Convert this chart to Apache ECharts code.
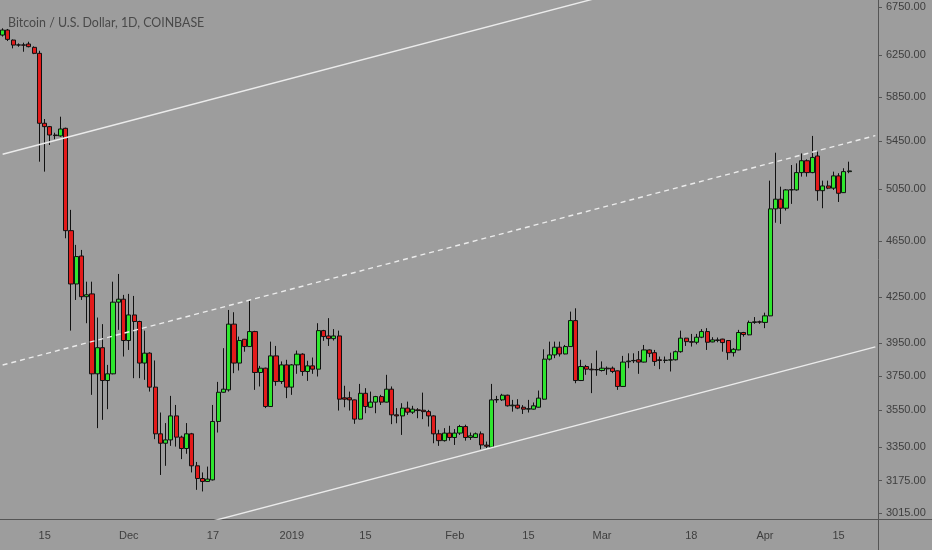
<!DOCTYPE html>
<html>
<head>
<meta charset="utf-8">
<title>Bitcoin / U.S. Dollar, 1D</title>
<script src="https://cdn.jsdelivr.net/npm/echarts@6/dist/echarts.min.js"></script>
<style>
  html, body { margin: 0; padding: 0; background: #9d9d9d; }
  #chart { width: 932px; height: 550px; }
</style>
</head>
<body>
<div id="chart"></div>
<script>
// daily candles, first one on Nov 7 2018; axis runs a few empty days past the last candle
var firstDay = '2018-11-07';
var dayCount = 167;

var open = [
  6455, 6507, 6404, 6353, 6355, 6364, 6330, 6270, 5609, 5579, 5505, 5497, 5564, 4727, 4342, 4540,
  4255, 4274, 3763, 3923, 3723, 3763, 4218, 4238, 3968, 4133, 4090, 3828, 3889, 3684, 3420, 3369,
  3387, 3519, 3402, 3341, 3420, 3250, 3185, 3170, 3178, 3488, 3654, 3668, 4073, 3828, 3976, 3930,
  4025, 3771, 3797, 3572, 3872, 3717, 3817, 3684, 3817, 3883, 3777, 3811, 3791, 4031, 3997, 3980,
  3997, 3622, 3622, 3610, 3501, 3648, 3568, 3597, 3629, 3597, 3672, 3525, 3519, 3563, 3540, 3553,
  3551, 3543, 3519, 3420, 3383, 3424, 3400, 3424, 3460, 3400, 3400, 3420, 3359, 3348, 3610, 3610,
  3637, 3576, 3580, 3568, 3557, 3557, 3568, 3614, 3852, 3878, 3926, 3884, 3930, 4096, 3723, 3807,
  3791, 3789, 3783, 3797, 3797, 3781, 3688, 3836, 3842, 3848, 3834, 3909, 3892, 3848, 3844, 3846,
  3848, 3898, 3983, 3961, 3957, 3989, 4025, 3959, 3972, 3977, 3968, 3892, 3909, 4019, 4004, 4084,
  4088, 4084, 4127, 4894, 4970, 4899, 5044, 5044, 5185, 5284, 5185, 5324, 5038, 5076, 5058, 5158,
  5022, 5193
];
var close = [
  6507, 6411, 6353, 6355, 6352, 6337, 6270, 5609, 5579, 5505, 5500, 5558, 4727, 4342, 4536, 4255,
  4268, 3763, 3923, 3723, 3763, 4218, 4238, 3968, 4133, 4090, 3828, 3889, 3684, 3420, 3369, 3387,
  3519, 3402, 3341, 3420, 3250, 3185, 3170, 3182, 3488, 3654, 3672, 4073, 3828, 3968, 3930, 4025,
  3771, 3797, 3572, 3872, 3717, 3817, 3684, 3817, 3883, 3777, 3811, 3791, 4031, 3993, 3980, 3997,
  3614, 3614, 3610, 3501, 3648, 3572, 3597, 3629, 3597, 3672, 3525, 3519, 3563, 3540, 3557, 3549,
  3543, 3519, 3420, 3383, 3424, 3400, 3424, 3460, 3400, 3409, 3420, 3360, 3353, 3610, 3612, 3637,
  3576, 3580, 3563, 3557, 3560, 3576, 3620, 3852, 3878, 3926, 3884, 3930, 4096, 3723, 3807, 3791,
  3787, 3787, 3797, 3793, 3777, 3688, 3834, 3840, 3844, 3834, 3909, 3888, 3838, 3844, 3846, 3848,
  3898, 3983, 3961, 3957, 3989, 4025, 3957, 3972, 3968, 3955, 3892, 3913, 4019, 4006, 4084, 4088,
  4086, 4127, 4894, 4970, 4899, 5044, 5046, 5185, 5284, 5185, 5312, 5038, 5076, 5058, 5158, 5017,
  5193, 5199
];
var low = [
  6440, 6394, 6320, 6336, 6286, 6330, 6262, 5276, 5193, 5418, 5468, 5490, 4670, 4031, 4233, 4233,
  4079, 3639, 3451, 3497, 3557, 3760, 4036, 3868, 3909, 3737, 3737, 3727, 3658, 3391, 3203, 3250,
  3355, 3351, 3285, 3313, 3216, 3128, 3120, 3168, 3175, 3427, 3652, 3658, 3767, 3783, 3898, 3928,
  3668, 3688, 3563, 3570, 3692, 3703, 3620, 3639, 3763, 3751, 3721, 3763, 3747, 3966, 3934, 3968,
  3549, 3568, 3549, 3475, 3499, 3534, 3566, 3534, 3581, 3595, 3473, 3478, 3414, 3525, 3530, 3506,
  3501, 3460, 3369, 3355, 3378, 3383, 3360, 3414, 3383, 3387, 3398, 3337, 3343, 3346, 3593, 3604,
  3572, 3543, 3557, 3530, 3538, 3555, 3566, 3612, 3844, 3858, 3868, 3882, 3928, 3707, 3720, 3757,
  3649, 3751, 3777, 3757, 3767, 3668, 3686, 3797, 3828, 3763, 3832, 3864, 3811, 3791, 3828, 3777,
  3844, 3892, 3934, 3930, 3944, 3983, 3909, 3957, 3957, 3898, 3848, 3868, 3907, 3993, 4002, 4075,
  4075, 4047, 4125, 4787, 4778, 4881, 4933, 5038, 5152, 5152, 5180, 4958, 4899, 5050, 5044, 4948,
  5020, 5180
];
var high = [
  6525, 6518, 6410, 6370, 6377, 6387, 6340, 6296, 5647, 5585, 5525, 5668, 5570, 4886, 4621, 4584,
  4358, 4358, 4116, 4073, 3817, 4358, 4412, 4267, 4274, 4260, 4095, 4031, 3895, 3844, 3538, 3479,
  3633, 3581, 3410, 3479, 3425, 3270, 3216, 3246, 3581, 3715, 3920, 4166, 4151, 3993, 3978, 4228,
  4030, 3811, 3800, 3961, 3934, 3838, 3848, 3822, 3905, 3888, 3842, 3862, 4079, 4036, 4112, 4041,
  4031, 3692, 3658, 3612, 3703, 3678, 3658, 3633, 3639, 3757, 3688, 3563, 3591, 3600, 3576, 3563,
  3652, 3553, 3522, 3442, 3451, 3464, 3446, 3469, 3470, 3427, 3427, 3433, 3378, 3703, 3633, 3645,
  3640, 3610, 3614, 3580, 3610, 3595, 3664, 3913, 3961, 3961, 3961, 3940, 4155, 4177, 3848, 3817,
  3827, 3905, 3838, 3807, 3807, 3783, 3872, 3888, 3888, 3902, 3940, 3912, 3909, 3868, 3868, 3892,
  3905, 4031, 3985, 4010, 4010, 4041, 4047, 3989, 3987, 3979, 3970, 3920, 4036, 4023, 4096, 4119,
  4096, 4148, 5119, 5352, 5070, 5050, 5248, 5262, 5346, 5296, 5497, 5361, 5119, 5119, 5193, 5180,
  5221, 5276
];

// log price scale
var priceTicks = [3015, 3175, 3350, 3550, 3750, 3950, 4250, 4650, 5050, 5450, 5850, 6250, 6750];
var priceRange = [2986, 6826];

var dateTicks = ['2018-11-15', '2018-12-01', '2018-12-17', '2019-01-01', '2019-01-15', '2019-02-01',
                 '2019-02-15', '2019-03-01', '2019-03-18', '2019-04-01', '2019-04-15'];
var dateTickText = ['15', 'Dec', '17', '2019', '15', 'Feb', '15', 'Mar', '18', 'Apr', '15'];

// drawn channel: two points each (date, price)
var channelTop = [['2018-11-07', 5339], ['2019-04-22', 7693]];
var channelMid = [['2018-11-07', 3816], ['2019-04-22', 5500]];
var channelLow = [['2018-11-07', 2726], ['2019-04-22', 3928]];

var days = [];
var d0 = new Date(firstDay + 'T00:00:00Z');
for (var i = 0; i < dayCount; i++) {
  var d = new Date(d0.getTime() + i * 86400000);
  days.push(d.toISOString().slice(0, 10));
}

var candles = days.map(function (day, i) {
  if (i >= open.length) return '-';
  return [Math.log(open[i]), Math.log(close[i]), Math.log(low[i]), Math.log(high[i])];
});

var tickText = {};
dateTicks.forEach(function (t, i) { tickText[t] = dateTickText[i]; });
function isTick(idx, val) { return tickText.hasOwnProperty(val); }

var logTicks = priceTicks.map(Math.log);

function channel(points, dashed) {
  return {
    type: 'line',
    data: points.map(function (p) { return [p[0], Math.log(p[1])]; }),
    symbol: 'none',
    silent: true,
    clip: true,
    z: 5,
    lineStyle: { color: '#ebebeb', width: 1.4, type: dashed ? [5, 4] : 'solid' }
  };
}

var chart = echarts.init(document.getElementById('chart'));
chart.setOption({
  animation: false,
  backgroundColor: '#9d9d9d',
  title: {
    text: 'Bitcoin / U.S. Dollar, 1D, COINBASE',
    left: 3, top: 12,
    textStyle: { fontSize: 12.4, fontWeight: 'normal', color: '#494949', fontFamily: 'Lato' }
  },
  grid: { left: -3.5, right: 54, top: 0, bottom: 31, containLabel: false },
  xAxis: {
    type: 'category',
    data: days,
    boundaryGap: true,
    axisLine: { lineStyle: { color: '#555', width: 1 } },
    axisTick: { interval: isTick, alignWithLabel: true, length: 4, lineStyle: { color: '#555' } },
    axisLabel: {
      interval: isTick,
      formatter: function (v) { return tickText[v]; },
      color: '#3e3e3e', fontSize: 11, fontFamily: 'Liberation Sans', margin: 11
    },
    splitLine: { show: false }
  },
  yAxis: {
    type: 'value',
    position: 'right',
    min: Math.log(priceRange[0]),
    max: Math.log(priceRange[1]),
    axisLine: { show: true, lineStyle: { color: '#555', width: 1 } },
    axisTick: { show: true, customValues: logTicks, length: 4, lineStyle: { color: '#555' } },
    axisLabel: {
      customValues: logTicks,
      formatter: function (v) { return Math.exp(v).toFixed(2); },
      color: '#3e3e3e', fontSize: 11, fontFamily: 'Liberation Sans', margin: 8
    },
    splitLine: { show: false }
  },
  graphic: [
    { type: 'line', shape: { x1: 878.5, y1: 519, x2: 878.5, y2: 550 }, style: { stroke: '#555', lineWidth: 1 } },
    { type: 'line', shape: { x1: 878, y1: 519.5, x2: 932, y2: 519.5 }, style: { stroke: '#555', lineWidth: 1 } }
  ],
  series: [
    {
      type: 'candlestick',
      data: candles,
      barWidth: 4.6,
      z: 2,
      itemStyle: {
        color: '#2fe62f',
        color0: '#e31b1b',
        borderColor: '#111',
        borderColor0: '#111',
        borderWidth: 1
      }
    },
    channel(channelTop, false),
    channel(channelMid, true),
    channel(channelLow, false)
  ]
});
</script>
</body>
</html>
